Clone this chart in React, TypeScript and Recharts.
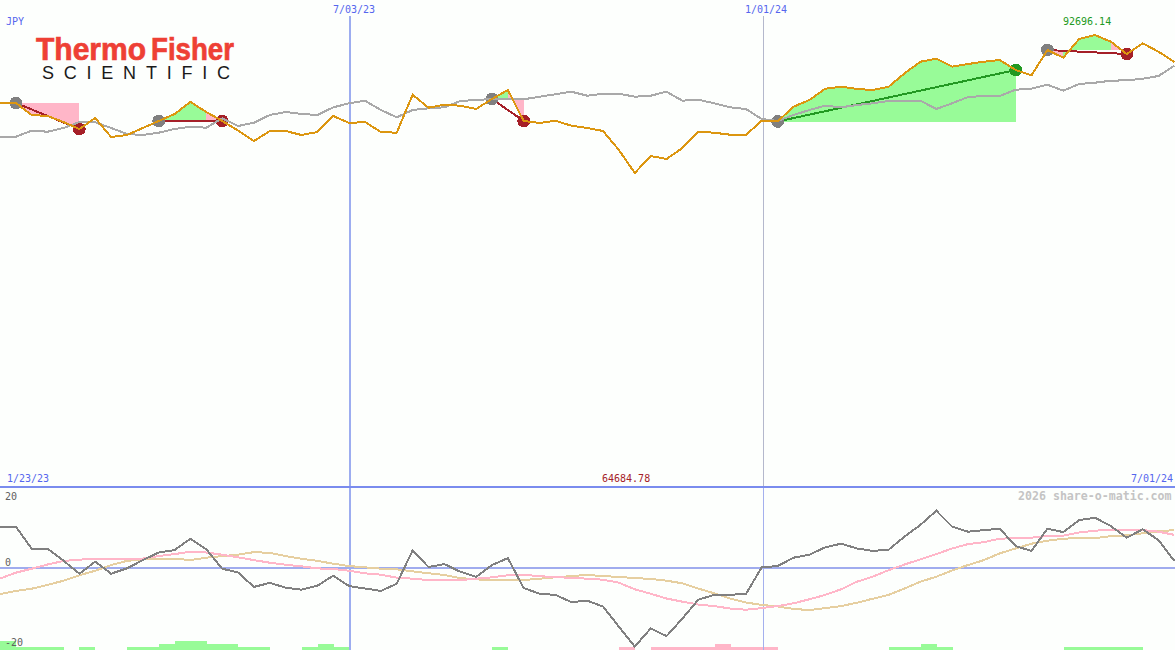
import { ComposedChart, BarChart, Bar, Line, Area, XAxis, YAxis, ReferenceLine } from "recharts"

// weekly closes, JPY
const closes = [
  78894, 78894, 76458, 76255, 75037, 73616, 75849, 71992, 72398, 73819,
  75240, 76661, 79097, 77067, 75240, 73312, 71180, 73210, 73210, 72398,
  73007, 76255, 74834, 75037, 73007, 72865, 80579, 77940, 78549, 78346,
  77676, 79706, 81533, 75240, 74834, 75301, 74286, 73819, 73210, 69353,
  64684.78, 68135, 67526, 69759, 73068, 72865, 72459, 72398, 75301, 75138,
  78143, 79503, 81797, 82203, 81736, 81533, 82203, 84923, 87278, 87887,
  86263, 86811, 87278, 87623, 85593, 84517, 89653, 88090, 91886, 92696.14,
  91338, 88841, 91013, 89308, 87217,
]

const index = [
  72053, 72053, 73271, 73068, 73819, 75037, 74976, 73819, 72601, 72398,
  72865, 73616, 74083, 73880, 75788, 74225, 74895, 76458, 77067, 76661,
  76458, 78021, 78833, 79361, 77473, 75991, 77473, 77818, 78021, 79300,
  79503, 79706, 79706, 79645, 80173, 80660, 81188, 80376, 80782, 80782,
  80173, 80376, 81188, 79361, 79564, 78833, 78021, 77676, 75646, 75240,
  76458, 77473, 78346, 78021, 78488, 78833, 79300, 79361, 79361, 77676,
  78833, 80112, 80315, 80315, 81594, 81797, 82609, 81391, 82751, 83015,
  83421, 83502, 83827, 84375, 86466,
]

const oscillator = [
  10.25, 10.25, 4.75, 4.75, 1.75, -1.5, 1.5, -1.5, -0.17, 1.9,
  3.8, 4.4, 7.25, 4.6, -0.25, -1.2, -4.8, -3.8, -5, -5.5,
  -4.5, -2, -4.6, -5.2, -5.8, -4, 4.3, 0.17, 0.9, -1,
  -2.3, 0.67, 2.4, -5.1, -6.5, -6.8, -8.6, -8.25, -9.7, -14.75,
  -19.7, -15.2, -17.1, -12.7, -8, -6.8, -6.75, -6.6, 0.1, 0.4,
  2.5, 3.25, 5.1, 6, 4.8, 4.2, 4.5, 7.8, 10.7, 14.25,
  10.25, 9, 9.4, 9.75, 5.4, 4.2, 9.75, 8.9, 11.9, 12.5,
  10.4, 7.5, 9.6, 6.9, 1.7,
]

const fastAvg = [
  -2.7, -1.25, -0.25, 0.8, 1.7, 2, 2.25, 2.25, 2.1, 2.3,
  2.9, 3.4, 4, 3.8, 3.25, 2.6, 1.9, 1.25, 0.75, 0.33,
  -0.17, -0.33, -0.75, -1.4, -1.75, -2.5, -2.75, -3.1, -3.1, -3.1,
  -2.75, -2.4, -1.9, -1.8, -2.1, -2.4, -2.5, -2.75, -3, -3.75,
  -5.4, -6.5, -7.7, -8.5, -9.2, -9.6, -10.2, -10.5, -10.1, -9.6,
  -8.9, -7.9, -6.8, -5.4, -3.5, -2.25, -0.6, 0.8, 2.1, 3.4,
  4.8, 5.9, 6.4, 7.25, 7.4, 7.5, 7.9, 8, 8.8, 9.25,
  9.5, 9.4, 9.4, 9, 8.2,
]

const slowAvg = [
  -6.6, -5.8, -5.25, -4.3, -3.25, -1.9, -0.75, 0.67, 1.7, 2.1,
  2.25, 2.25, 1.9, 2.5, 2.9, 3.25, 3.9, 3.7, 2.9, 2.25,
  1.7, 1, 0.4, 0.1, -0.25, -0.4, -0.9, -1.4, -1.8, -2.6,
  -2.9, -3.2, -3.1, -3.1, -2.75, -2.4, -2.1, -1.8, -2.1, -2.3,
  -2.6, -2.8, -3.25, -3.9, -5.2, -6.4, -7.7, -8.7, -9.3, -9.7,
  -10.3, -10.6, -10.1, -9.6, -8.75, -7.75, -6.8, -5.2, -3.5, -2.25,
  -0.67, 0.67, 1.9, 3.6, 4.8, 6, 6.75, 7.25, 7.4, 7.4,
  7.9, 8.1, 8.6, 9.1, 9.4,
]

// bottom strip, one entry per week: + green, - pink, in steps
const signal = [
  3, 1, 1, 1, 0, 1, 0, 0, 1, 1,
  2, 3, 3, 2, 2, 1, 1, 0, 0, 1,
  2, 1, 0, 0, 0, 0, 0, 0, 0, 0,
  0, 1, 0, 0, 0, 0, 0, 0, 0, -1,
  0, -1, -1, -1, -1, -2, -1, -1, -1, 0,
  0, 0, 0, 0, 0, 0, 1, 1, 2, 1,
  0, 0, 0, 0, 0, 0, 0, 1, 1, 1,
  1, 1, 0, 0,
]

const trades = [
  { from: 1, to: 5, color: "#a52028" },
  { from: 10, to: 14, color: "#a52028" },
  { from: 31, to: 33, color: "#a52028" },
  { from: 49, to: 64, color: "#229922" },
  { from: 66, to: 71, color: "#a52028" },
]

// shaded runs: [first week, last week, trade number]
const gainRuns = [[10, 13, 1], [31, 32, 2], [49, 64, 3], [67, 70, 4]]
const lossRuns = [[1, 5, 0], [13, 14, 1], [32, 33, 2], [66, 67, 4], [70, 71, 4]]

const dateMarks = [
  { week: 22.05, text: "7/03/23", color: "#9dadf0", width: 2 },
  { week: 48.1, text: "1/01/24", color: "#b4b8cc", width: 1 },
]

const mono = "'DejaVu Sans Mono', monospace"
const sans = "'Liberation Sans', sans-serif"
const red = "#ee4035"
const pageW = 1175
const xDomain = [0, 74.04]
const priceDomain = [942, 99803]

const band = (runs: number[][], i: number) => {
  const run = runs.find((r) => i >= r[0] && i <= r[1])
  if (!run) return null
  return [closes[trades[run[2]].from], closes[i]]
}

const priceRows = closes.map((c, i) => {
  const row: any = { i, close: c, index: index[i], gain: band(gainRuns, i), loss: band(lossRuns, i) }
  trades.forEach((t, n) => {
    row["t" + n] = i === t.from || i === t.to ? c : null
  })
  return row
})

const oscRows = oscillator.map((v, i) => ({ i, osc: v, fast: fastAvg[i], slow: slowAvg[i] }))

const signalRows = signal.map((v, i) => ({ i, up: v > 0 ? v : 0, down: v < 0 ? -v : 0 }))

const Tag = ({ x, y, color, children, bold, size }: any) => (
  <div
    style={{
      position: "absolute",
      left: x,
      top: y,
      color,
      fontFamily: mono,
      fontSize: size || 10,
      fontWeight: bold ? 700 : 400,
      lineHeight: "12px",
      whiteSpace: "nowrap",
    }}
  >
    {children}
  </div>
)

const tradeDot = (t: any) => (p: any) => {
  if (p.value == null || p.cy == null) return <g key={p.key || p.index} />
  const fill = p.payload.i === t.from ? "#808080" : t.color
  return <circle key={p.key || p.index} cx={p.cx} cy={p.cy} r={6.4} fill={fill} stroke="none" />
}

const oscTick = (p: any) => (
  <text
    x={5}
    y={p.y + (p.payload.value > 0 ? 12 : -2)}
    fill="#606060"
    fontFamily={mono}
    fontSize={10}
  >
    {p.payload.value}
  </text>
)

const layer = (top: number): any => ({ position: "absolute", left: 0, top, shapeRendering: "crispEdges" })

export default function App() {
  return (
    <div style={{ position: "absolute", left: 0, top: 0, width: pageW, height: 650, background: "#fdfffd", overflow: "hidden" }}>
      <div style={layer(0)}>
        <ComposedChart width={pageW} height={487} data={priceRows} margin={{ top: 0, right: 0, bottom: 0, left: 0 }}>
          <XAxis dataKey="i" type="number" domain={xDomain} hide allowDataOverflow />
          <YAxis type="number" domain={priceDomain} hide allowDataOverflow />
          {dateMarks.map((d) => (
            <ReferenceLine
              key={d.text}
              segment={[{ x: d.week, y: 96555 }, { x: d.week, y: 942 }]}
              stroke={d.color}
              strokeWidth={d.width}
            />
          ))}
          <Area dataKey="gain" stroke="none" fill="#98fb98" fillOpacity={1} isAnimationActive={false} dot={false} activeDot={false} />
          <Area dataKey="loss" stroke="none" fill="#ffb6c8" fillOpacity={1} isAnimationActive={false} dot={false} activeDot={false} />
          {trades.map((t, n) => (
            <Line
              key={n}
              dataKey={"t" + n}
              stroke={t.color}
              strokeWidth={2}
              connectNulls
              dot={tradeDot(t)}
              activeDot={false}
              isAnimationActive={false}
            />
          ))}
        </ComposedChart>
      </div>

      {/* price lines sit above the trade markers */}
      <div style={layer(0)}>
        <ComposedChart width={pageW} height={487} data={priceRows} margin={{ top: 0, right: 0, bottom: 0, left: 0 }}>
          <XAxis dataKey="i" type="number" domain={xDomain} hide allowDataOverflow />
          <YAxis type="number" domain={priceDomain} hide allowDataOverflow />
          <Line dataKey="index" stroke="#a9a9a9" strokeWidth={2} dot={false} activeDot={false} isAnimationActive={false} />
          <Line dataKey="close" stroke="#dc9610" strokeWidth={2} dot={false} activeDot={false} isAnimationActive={false} />
        </ComposedChart>
      </div>

      {/* strip goes first so the -20 label stays on top of it */}
      <div style={layer(641)}>
        <BarChart width={pageW} height={9} data={signalRows} barCategoryGap={0} margin={{ top: 0, right: 0, bottom: 0, left: 0 }}>
          <XAxis dataKey="i" hide />
          <YAxis domain={[0, 3]} hide />
          <Bar dataKey="up" stackId="s" fill="#98fb98" isAnimationActive={false} />
          <Bar dataKey="down" stackId="s" fill="#ffb6c8" isAnimationActive={false} />
        </BarChart>
      </div>

      <div style={layer(487)}>
        <ComposedChart width={pageW} height={163} data={oscRows} margin={{ top: 0, right: 0, bottom: 0, left: 0 }}>
          <XAxis dataKey="i" type="number" domain={xDomain} hide allowDataOverflow />
          <YAxis
            type="number"
            domain={[-20.575, 20.175]}
            ticks={[20, 0, -20]}
            mirror
            width={30}
            interval={0}
            axisLine={false}
            tickLine={false}
            tick={oscTick}
            allowDataOverflow
          />
          {dateMarks.map((d) => (
            <ReferenceLine key={d.text} x={d.week} stroke={d.week < 30 ? d.color : "#a4b0ee"} strokeWidth={d.width} />
          ))}
          <ReferenceLine y={0} stroke="#a0acee" strokeWidth={2} />
          <Line dataKey="slow" stroke="#e6cfa0" strokeWidth={2} dot={false} activeDot={false} isAnimationActive={false} />
          <Line dataKey="fast" stroke="#ffb6c8" strokeWidth={2} dot={false} activeDot={false} isAnimationActive={false} />
          <Line dataKey="osc" stroke="#808080" strokeWidth={2} dot={false} activeDot={false} isAnimationActive={false} />
        </ComposedChart>
      </div>

      <div style={{ position: "absolute", left: 0, top: 486, width: pageW, height: 2, background: "#7a8cee" }} />

      <svg width={270} height={100} style={{ position: "absolute", left: 0, top: 0 }}>
        <text x={36} y={60} fill={red} stroke={red} strokeWidth={0.7} fontFamily={sans} fontWeight={700} fontSize={32} textLength={110} lengthAdjust="spacingAndGlyphs">
          Thermo
        </text>
        <text x={151} y={60} fill={red} stroke={red} strokeWidth={0.7} fontFamily={sans} fontWeight={700} fontSize={32} textLength={83} lengthAdjust="spacingAndGlyphs">
          Fisher
        </text>
        <text x={42} y={79} fill="#1a1a1a" fontFamily={sans} fontSize={18} textLength={188}>
          SCIENTIFIC
        </text>
      </svg>

      <Tag x={6} y={16} color="#5566ee">JPY</Tag>
      <Tag x={333} y={4} color="#5566ee">{dateMarks[0].text}</Tag>
      <Tag x={745} y={4} color="#5566ee">{dateMarks[1].text}</Tag>
      <Tag x={1063} y={16} color="#229922">92696.14</Tag>
      <Tag x={7} y={473} color="#5566ee">1/23/23</Tag>
      <Tag x={602} y={473} color="#a52028">64684.78</Tag>
      <Tag x={1131} y={473} color="#5566ee">7/01/24</Tag>
      <Tag x={1018} y={490} color="#c4c4c4" bold size={11.6}>2026 share-o-matic.com</Tag>
    </div>
  )
}
